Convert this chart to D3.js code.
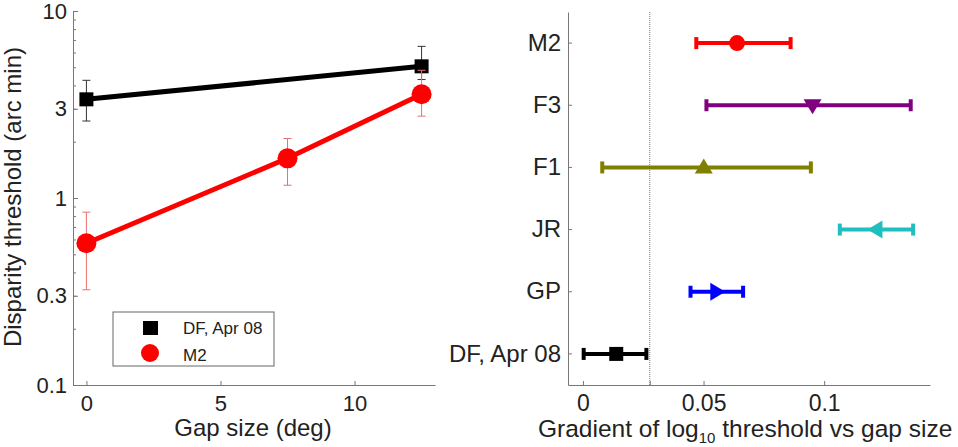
<!DOCTYPE html>
<html>
<head>
<meta charset="utf-8">
<script src="https://cdn.jsdelivr.net/npm/d3@7"></script>
<style>
  body { margin: 0; background: #fff; }
  svg { font-family: "Liberation Sans", Arial, sans-serif; }
</style>
</head>
<body>
<script>
const w = 958, h = 447

// left panel data: threshold vs gap size
const gapSizes = [0, 7.5, 12.5]
const dfGaps = [0, 12.5]
const dfThresh = [3.37, 5.06]
const dfLow = [2.58, 4.3]
const dfHigh = [4.26, 6.47]
const m2Thresh = [0.573, 1.63, 3.59]
const m2Low = [0.323, 1.17, 2.74]
const m2High = [0.84, 2.08, 4.82]
const leftYTicks = [0.1, 0.3, 1, 3, 10]
const leftYMinor = [0.2, 0.3, 0.4, 0.5, 0.6, 0.7, 0.8, 0.9, 2, 3, 4, 5, 6, 7, 8, 9]
const leftXTicks = [0, 5, 10]

// right panel data: gradient per observer
const observers = ['M2', 'F3', 'F1', 'JR', 'GP', 'DF, Apr 08']
const gradient = [0.0639, 0.0952, 0.0501, 0.1217, 0.0553, 0.0138]
const gradLow = [0.0470, 0.0512, 0.0080, 0.1065, 0.0446, 0.0003]
const gradHigh = [0.0861, 0.1359, 0.0945, 0.1369, 0.0664, 0.0263]
const obsColors = ['#ff0000', '#800080', '#808000', '#1fbfbf', '#0000ff', '#000000']
const obsSymbols = ['circle', 'down', 'up', 'left', 'right', 'square']
const refLine = 0.0277
const rightXTicks = [0, 0.05, 0.1]

const svg = d3.select('body').append('svg')
  .attr('width', w)
  .attr('height', h)

const axisColor = '#777'
const txtColor = '#222'

// ---------- left panel ----------
const xL = d3.scaleLinear().domain([-0.5, 13]).range([73, 435])
const yL = d3.scaleLog().domain([0.1, 10]).range([385, 11])

const axL = svg.append('g')
axL.append('g')
  .attr('transform', 'translate(0,' + 385 + ')')
  .call(d3.axisBottom(xL).tickValues(leftXTicks).tickSizeInner(-4).tickSizeOuter(0).tickPadding(10).tickFormat(d3.format('d')))
axL.append('g')
  .attr('transform', 'translate(' + 73 + ',0)')
  .call(d3.axisLeft(yL).tickValues(leftYMinor).tickSizeInner(-3).tickSizeOuter(0).tickFormat(''))
axL.append('g')
  .attr('transform', 'translate(' + 73 + ',0)')
  .call(d3.axisLeft(yL).tickValues(leftYTicks).tickSizeInner(-5).tickSizeOuter(0).tickPadding(6).tickFormat(d => String(d)))
axL.selectAll('path, line').attr('stroke', axisColor)
axL.selectAll('text').style('font-size', '22px').attr('fill', txtColor)

svg.append('text')
  .attr('transform', 'translate(21,197) rotate(-90)')
  .attr('text-anchor', 'middle')
  .style('font-size', '24px')
  .attr('fill', txtColor)
  .text('Disparity threshold (arc min)')

svg.append('text')
  .attr('x', 253).attr('y', 436)
  .attr('text-anchor', 'middle')
  .style('font-size', '24px')
  .attr('fill', txtColor)
  .text('Gap size (deg)')

// error bars (thin)
function errBars(g, xs, lo, hi, color) {
  xs.forEach((x, i) => {
    const cx = xL(x)
    g.append('line').attr('x1', cx).attr('x2', cx).attr('y1', yL(lo[i])).attr('y2', yL(hi[i]))
      .attr('stroke', color).attr('stroke-width', 1)
    ;[lo[i], hi[i]].forEach(v => {
      g.append('line').attr('x1', cx - 4).attr('x2', cx + 4).attr('y1', yL(v)).attr('y2', yL(v))
        .attr('stroke', color).attr('stroke-width', 1)
    })
  })
}

const lineL = d3.line().x(d => xL(d[0])).y(d => yL(d[1]))

const gDF = svg.append('g')
errBars(gDF, dfGaps, dfLow, dfHigh, '#333')
gDF.append('path')
  .attr('d', lineL(dfGaps.map((x, i) => [x, dfThresh[i]])))
  .attr('fill', 'none').attr('stroke', '#000').attr('stroke-width', 5)
gDF.selectAll('rect').data(dfGaps).enter().append('rect')
  .attr('x', (d) => xL(d) - 7)
  .attr('y', (d, i) => yL(dfThresh[i]) - 7)
  .attr('width', 14).attr('height', 14)
  .attr('fill', '#000')

const gM2 = svg.append('g')
errBars(gM2, gapSizes, m2Low, m2High, '#e87070')
gM2.append('path')
  .attr('d', lineL(gapSizes.map((x, i) => [x, m2Thresh[i]])))
  .attr('fill', 'none').attr('stroke', '#ff0000').attr('stroke-width', 5)
gM2.selectAll('circle').data(gapSizes).enter().append('circle')
  .attr('cx', d => xL(d))
  .attr('cy', (d, i) => yL(m2Thresh[i]))
  .attr('r', 10)
  .attr('fill', '#ff0000')

// legend
const leg = svg.append('g')
leg.append('rect')
  .attr('x', 113).attr('y', 312).attr('width', 161).attr('height', 54)
  .attr('fill', '#fff').attr('stroke', '#666').attr('stroke-width', 1)
leg.append('rect').attr('x', 143).attr('y', 321).attr('width', 15).attr('height', 14).attr('fill', '#000')
leg.append('circle').attr('cx', 150).attr('cy', 353).attr('r', 9).attr('fill', '#ff0000')
leg.append('text').attr('x', 183).attr('y', 334).style('font-size', '17px').attr('fill', txtColor).text('DF, Apr 08')
leg.append('text').attr('x', 183).attr('y', 361).style('font-size', '17px').attr('fill', txtColor).text('M2')

// ---------- right panel ----------
const xR = d3.scaleLinear().domain([-0.0062, 0.1439]).range([568, 930])
const yR = d3.scaleBand().domain(observers).range([12, 385])

const axRx = svg.append('g')
  .attr('transform', 'translate(0,' + 385 + ')')
  .call(d3.axisBottom(xR).tickValues(rightXTicks.concat([refLine])).tickSizeInner(-4).tickSizeOuter(0).tickPadding(10)
    .tickFormat(d => d === refLine ? '' : String(d)))
const axRy = svg.append('g')
  .attr('transform', 'translate(' + 568 + ',0)')
  .call(d3.axisLeft(yR).tickSizeInner(-4).tickSizeOuter(0).tickPadding(7))
;[axRx, axRy].forEach(a => {
  a.selectAll('path, line').attr('stroke', axisColor)
  a.selectAll('text').attr('fill', txtColor).style('font-size', '23px')
})
axRy.selectAll('text').style('font-size', '24px')

// reference line
svg.append('line')
  .attr('x1', xR(refLine)).attr('x2', xR(refLine))
  .attr('y1', 12).attr('y2', 385)
  .attr('stroke', '#777').attr('stroke-width', 1).attr('stroke-dasharray', '1,1')

const xlab = svg.append('text')
  .attr('x', 538).attr('y', 437)
  .style('font-size', '24.5px')
  .attr('fill', txtColor)
xlab.append('tspan').text('Gradient of log')
xlab.append('tspan').style('font-size', '15px').attr('dy', 6).text('10')
xlab.append('tspan').attr('dy', -6).text(' threshold vs gap size')

const sym = {
  circle: d3.symbol().type(d3.symbolCircle).size(200)(),
  square: 'M-7,-7H7V7H-7Z',
  down: 'M-9,-6L9,-6L0,9Z',
  up: 'M-9,6L9,6L0,-9Z',
  left: 'M6,-9L6,9L-9,0Z',
  right: 'M-6,-9L-6,9L9,0Z'
}

const rows = svg.selectAll('.obs')
  .data(observers)
  .enter()
  .append('g')
  .attr('class', 'obs')
  .attr('transform', d => 'translate(0,' + (yR(d) + yR.bandwidth() / 2) + ')')

rows.append('line')
  .attr('x1', (d, i) => xR(gradLow[i]))
  .attr('x2', (d, i) => xR(gradHigh[i]))
  .attr('stroke', (d, i) => obsColors[i])
  .attr('stroke-width', 4)
rows.append('line')
  .attr('x1', (d, i) => xR(gradLow[i])).attr('x2', (d, i) => xR(gradLow[i]))
  .attr('y1', -6).attr('y2', 6)
  .attr('stroke', (d, i) => obsColors[i]).attr('stroke-width', 4)
rows.append('line')
  .attr('x1', (d, i) => xR(gradHigh[i])).attr('x2', (d, i) => xR(gradHigh[i]))
  .attr('y1', -6).attr('y2', 6)
  .attr('stroke', (d, i) => obsColors[i]).attr('stroke-width', 4)
rows.append('path')
  .attr('transform', (d, i) => 'translate(' + xR(gradient[i]) + ',0)')
  .attr('d', (d, i) => sym[obsSymbols[i]])
  .attr('fill', (d, i) => obsColors[i])
</script>
</body>
</html>
